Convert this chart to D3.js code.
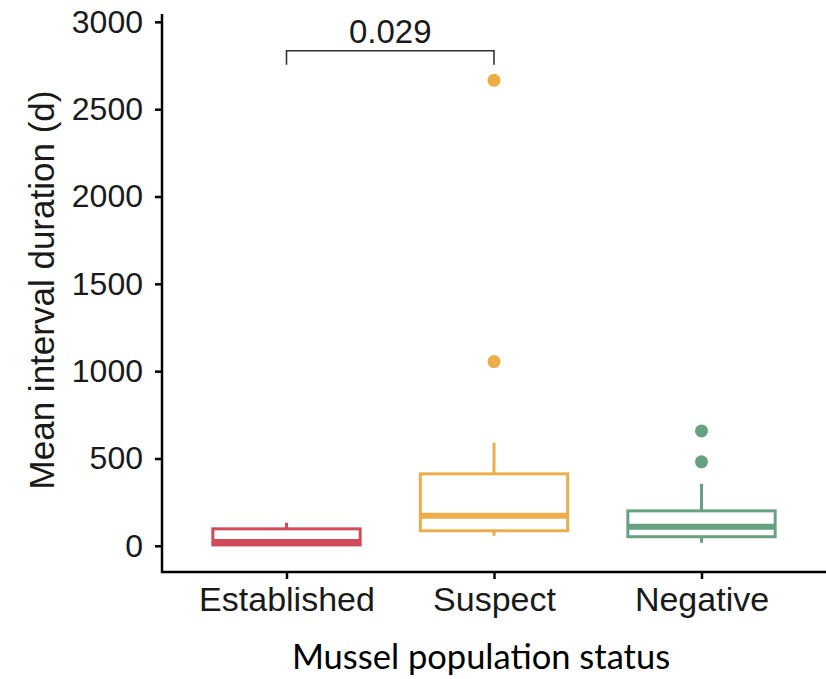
<!DOCTYPE html>
<html>
<head>
<meta charset="utf-8">
<script src="https://cdn.jsdelivr.net/npm/d3@7"></script>
<style>
  body { margin: 0; background: #fff; }
  svg { display: block; }
</style>
</head>
<body>
<svg width="826" height="679"></svg>
<script>
// box summaries (days)
const categories = ["Established", "Suspect", "Negative"];
const colors = ["#d1495b", "#edae49", "#66a182"];
const whiskerLow = [4, 57, 17];
const q1 = [5, 86, 52];
const median = [22, 172, 109];
const q3 = [97, 412, 200];
const whiskerHigh = [132, 590, 355];
const outliers = [[], [1055, 2665], [481, 658]];
const yTicks = [0, 500, 1000, 1500, 2000, 2500, 3000];
const pLabel = "0.029";

const svg = d3.select("svg");
const plotLeft = 162, plotRight = 826, plotTop = 14, plotBottom = 572;

const x = d3.scalePoint().domain(categories).range([plotLeft, plotRight]).padding(0.6);
const y = d3.scaleLinear().domain([-150, 3045]).range([plotBottom, plotTop]);
const boxW = x.step() * 0.71;

const axisFont = "'Liberation Sans', Arial, Helvetica, sans-serif";

// y axis
const yAxis = svg.append("g")
  .attr("transform", `translate(${plotLeft},0)`)
  .call(d3.axisLeft(y).tickValues(yTicks).tickFormat(d3.format("d"))
    .tickSize(7).tickPadding(12).tickSizeOuter(0));
yAxis.select(".domain").remove();
yAxis.selectAll(".tick line").attr("stroke", "#000").attr("stroke-width", 2.5);
yAxis.selectAll(".tick text").attr("font-family", axisFont).attr("font-size", 32).attr("fill", "#1a1a1a");

// x axis
const xAxis = svg.append("g")
  .attr("transform", `translate(0,${plotBottom})`)
  .call(d3.axisBottom(x).tickSize(7).tickPadding(8).tickSizeOuter(0));
xAxis.select(".domain").remove();
xAxis.selectAll(".tick line").attr("stroke", "#000").attr("stroke-width", 2.5);
xAxis.selectAll(".tick text").attr("font-family", axisFont).attr("font-size", 34).attr("fill", "#1a1a1a");

// axis lines
svg.append("path")
  .attr("d", `M${plotLeft},${plotTop}V${plotBottom}H${plotRight}`)
  .attr("fill", "none").attr("stroke", "#000").attr("stroke-width", 2.5);

// boxes
const boxes = svg.append("g").selectAll("g")
  .data(categories.map((c, i) => ({c, i})))
  .join("g")
  .attr("stroke", d => colors[d.i])
  .attr("fill", "none");

boxes.append("line")
  .attr("x1", d => x(d.c)).attr("x2", d => x(d.c))
  .attr("y1", d => y(q3[d.i])).attr("y2", d => y(whiskerHigh[d.i]))
  .attr("stroke-width", 3);
boxes.append("line")
  .attr("x1", d => x(d.c)).attr("x2", d => x(d.c))
  .attr("y1", d => y(q1[d.i])).attr("y2", d => y(whiskerLow[d.i]))
  .attr("stroke-width", 3);
boxes.append("rect")
  .attr("x", d => x(d.c) - boxW / 2)
  .attr("width", boxW)
  .attr("y", d => y(q3[d.i]))
  .attr("height", d => y(q1[d.i]) - y(q3[d.i]))
  .attr("fill", "#fff")
  .attr("stroke-width", 3);
boxes.append("line")
  .attr("x1", d => x(d.c) - boxW / 2).attr("x2", d => x(d.c) + boxW / 2)
  .attr("y1", d => y(median[d.i])).attr("y2", d => y(median[d.i]))
  .attr("stroke-width", 6);

boxes.selectAll("circle")
  .data(d => outliers[d.i].map(v => ({v, d})))
  .join("circle")
  .attr("cx", o => x(o.d.c))
  .attr("cy", o => y(o.v))
  .attr("r", 6.5)
  .attr("stroke", "none")
  .attr("fill", o => colors[o.d.i]);

// significance bracket
const bY = y(2835);
svg.append("path")
  .attr("d", `M${x(categories[0])},${bY + 14}V${bY}H${x(categories[1])}V${bY + 14}`)
  .attr("fill", "none").attr("stroke", "#333").attr("stroke-width", 1.6);
svg.append("text")
  .attr("x", (x(categories[0]) + x(categories[1])) / 2)
  .attr("y", bY - 8)
  .attr("text-anchor", "middle")
  .attr("font-family", axisFont).attr("font-size", 33).attr("fill", "#1a1a1a")
  .text(pLabel);

// axis titles
svg.append("text")
  .attr("transform", `translate(54,290) rotate(-90)`)
  .attr("text-anchor", "middle")
  .attr("font-family", axisFont).attr("font-size", 35).attr("fill", "#1a1a1a")
  .text("Mean interval duration (d)");

svg.append("text")
  .attr("x", 481)
  .attr("y", 669)
  .attr("text-anchor", "middle")
  .attr("font-family", "Lato, 'Open Sans', sans-serif").attr("font-size", 34.5).attr("fill", "#000")
  .text("Mussel population status");
</script>
</body>
</html>
